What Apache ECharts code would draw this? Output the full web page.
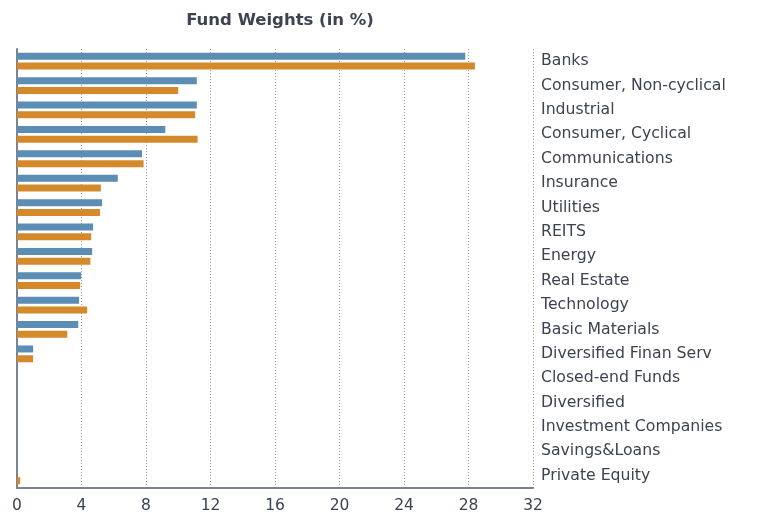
<!DOCTYPE html>
<html>
<head>
<meta charset="utf-8">
<script src="https://cdn.jsdelivr.net/npm/echarts@6/dist/echarts.min.js"></script>
<style>
  html, body { margin: 0; padding: 0; background: #fff; }
  #main { width: 770px; height: 512px; }
</style>
</head>
<body>
<div id="main"></div>
<script>
// sector names, top to bottom
var categories = ['Banks', 'Consumer, Non-cyclical', 'Industrial', 'Consumer, Cyclical',
  'Communications', 'Insurance', 'Utilities', 'REITS', 'Energy', 'Real Estate',
  'Technology', 'Basic Materials', 'Diversified Finan Serv', 'Closed-end Funds',
  'Diversified', 'Investment Companies', 'Savings&Loans', 'Private Equity'];
var fundWeights = [27.8, 11.15, 11.15, 9.2, 7.75, 6.25, 5.28, 4.72, 4.66, 3.98, 3.85, 3.8, 1.0, 0, 0, 0, 0, 0];
var benchWeights = [28.4, 10.0, 11.05, 11.2, 7.85, 5.2, 5.15, 4.6, 4.55, 3.92, 4.35, 3.12, 1.0, 0, 0, 0, 0, 0.2];
var xTicks = [0, 4, 8, 12, 16, 20, 24, 28, 32];

var chart = echarts.init(document.getElementById('main'));
var font = 'Verdana, "DejaVu Sans", sans-serif';
var option = {
  animation: false,
  title: {
    text: 'Fund Weights (in %)',
    left: 275,
    textAlign: 'center',
    top: 7,
    textStyle: { fontFamily: font, fontSize: 16.5, fontWeight: 'bold', color: '#3b4450' }
  },
  grid: { left: 17, right: 237, top: 49, bottom: 24, outerBoundsMode: 'none', containLabel: false },
  xAxis: {
    type: 'value',
    min: xTicks[0],
    max: xTicks[xTicks.length - 1],
    interval: 4,
    axisLine: { show: true, lineStyle: { color: '#7d838b', width: 2 } },
    axisTick: { show: false },
    axisLabel: { fontFamily: font, fontSize: 15.5, color: '#3b4450', margin: 10 },
    splitLine: { show: true, lineStyle: { color: '#999', type: [1, 2] } }
  },
  yAxis: [{
    type: 'category',
    data: categories,
    inverse: true,
    position: 'left',
    axisLine: { show: true, lineStyle: { color: '#7d838b', width: 2 } },
    axisTick: { show: false },
    axisLabel: { show: false }
  }, {
    type: 'category',
    data: categories,
    inverse: true,
    position: 'right',
    axisLine: { show: false },
    axisTick: { show: false },
    axisLabel: { fontFamily: font, fontSize: 15.7, color: '#3b4450', margin: 8, align: 'left', padding: [4, 0, 0, 0] }
  }],
  series: [{
    name: 'Fund',
    type: 'bar',
    yAxisIndex: 1,
    data: fundWeights,
    barWidth: 7,
    barGap: '40%',
    itemStyle: { color: '#5b8db5' }
  }, {
    name: 'Benchmark',
    type: 'bar',
    yAxisIndex: 1,
    data: benchWeights,
    barWidth: 7,
    itemStyle: { color: '#d4892a' }
  }]
};
chart.setOption(option);
</script>
</body>
</html>
